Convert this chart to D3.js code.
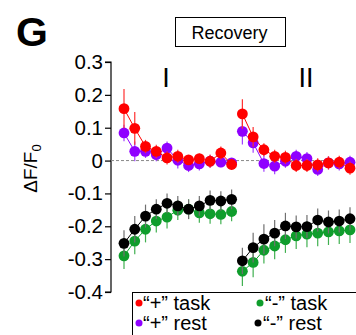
<!DOCTYPE html>
<html>
<head>
<meta charset="utf-8">
<script src="https://cdn.jsdelivr.net/npm/d3@7"></script>
<style>
  html, body { margin: 0; padding: 0; background: #fff; }
  svg { display: block; font-family: "Liberation Sans", Arial, sans-serif; }
</style>
</head>
<body>
<svg id="chart" width="356" height="335"></svg>
<script>
// Time-bin index: panel I = bins 0..10, panel II = bins 11..21
const binsI = d3.range(0, 11);
const binsII = d3.range(11, 22);
const panelLabels = ["I", "II"];
const yTicks = [0.3, 0.2, 0.1, 0, -0.1, -0.2, -0.3, -0.4];
const yTickLabels = ["0.3", "0.2", "0.1", "0", "-0.1", "-0.2", "-0.3", "-0.4"];

// "+" task
const plusTaskI  = [0.158, 0.098, 0.043, 0.028, 0.008, 0.013, 0.002, 0.006, -0.002, 0.023, -0.012];
const plusTaskII = [0.142, 0.072, 0.033, 0.013, 0.010, -0.015, -0.015, -0.013, -0.007, -0.005, -0.023];
const plusTaskErrI  = [0.06, 0.05, 0.02, 0.02, 0.02, 0.02, 0.015, 0.015, 0.02, 0.02, 0.015];
const plusTaskErrII = [0.045, 0.03, 0.02, 0.02, 0.02, 0.02, 0.02, 0.02, 0.02, 0.02, 0.02];

// "+" rest
const plusRestI  = [0.084, 0.028, 0.028, 0.018, 0.038, 0.001, -0.015, -0.010, -0.002, -0.005, -0.007];
const plusRestII = [0.089, 0.054, -0.009, -0.017, -0.002, 0.013, 0.006, -0.027, -0.007, -0.010, -0.005];
const plusRestErrI  = [0.025, 0.03, 0.02, 0.02, 0.02, 0.025, 0.02, 0.02, 0.02, 0.015, 0.015];
const plusRestErrII = [0.04, 0.03, 0.025, 0.025, 0.02, 0.02, 0.02, 0.02, 0.02, 0.02, 0.02];

// "-" task
const minusTaskI  = [-0.290, -0.245, -0.209, -0.184, -0.172, -0.151, -0.148, -0.159, -0.162, -0.164, -0.155];
const minusTaskII = [-0.337, -0.310, -0.273, -0.260, -0.241, -0.229, -0.224, -0.221, -0.217, -0.214, -0.211];
const minusTaskErrI  = [0.04, 0.04, 0.04, 0.035, 0.035, 0.03, 0.03, 0.03, 0.03, 0.03, 0.03];
const minusTaskErrII = [0.045, 0.045, 0.04, 0.04, 0.04, 0.04, 0.04, 0.04, 0.04, 0.04, 0.04];

// "-" rest
const minusRestI  = [-0.252, -0.209, -0.169, -0.148, -0.130, -0.138, -0.148, -0.138, -0.121, -0.123, -0.118];
const minusRestII = [-0.305, -0.265, -0.239, -0.221, -0.199, -0.202, -0.201, -0.181, -0.187, -0.184, -0.177];
const minusRestErrI  = [0.04, 0.04, 0.035, 0.03, 0.03, 0.03, 0.03, 0.03, 0.03, 0.03, 0.03];
const minusRestErrII = [0.04, 0.045, 0.045, 0.04, 0.04, 0.035, 0.035, 0.035, 0.035, 0.035, 0.035];

const seriesNames = ["\u201C+\u201D task", "\u201C-\u201D task", "\u201C+\u201D rest", "\u201C-\u201D rest"];

const colors = {
  plusTask: "#ff0000",
  plusRest: "#8f00ff",
  minusTask: "#0f9d2c",
  minusRest: "#000000"
};

const svg = d3.select("#chart");

const x = d3.scaleLinear().domain([0, 21]).range([124, 350]);
const y = d3.scaleLinear().domain([-0.4, 0.3]).range([292, 62]);
const axisX = 111;

// Panel letter
svg.append("text")
  .attr("x", 16).attr("y", 46)
  .attr("font-size", 41).attr("font-weight", "bold")
  .text("G");

// Condition title box
svg.append("rect")
  .attr("x", 175.5).attr("y", 17.5).attr("width", 110).attr("height", 29)
  .attr("fill", "none").attr("stroke", "#000").attr("stroke-width", 1);
svg.append("text")
  .attr("x", 229.5).attr("y", 38.5)
  .attr("text-anchor", "middle").attr("font-size", 18)
  .text("Recovery");

// Y axis
const yAxis = d3.axisLeft(y)
  .tickValues(yTicks)
  .tickFormat((d, i) => yTickLabels[i])
  .tickSize(6)
  .tickPadding(2);
const gY = svg.append("g")
  .attr("transform", `translate(${axisX},0)`)
  .call(yAxis);
gY.select(".domain").attr("stroke", "#000").attr("stroke-width", 1.2)
  .attr("d", `M-6,${y(0.3)}H0V${y(-0.4)}H-6`);
gY.selectAll(".tick line").attr("stroke", "#000").attr("stroke-width", 1.2);
gY.selectAll(".tick text")
  .attr("font-size", 20.5)
  .attr("fill", "#000")
  .attr("font-family", "\"Liberation Sans\", Arial, sans-serif");

// Y axis title: ΔF/F0
const yTitle = svg.append("text")
  .attr("transform", `translate(37,${y(0) + 8}) rotate(-90)`)
  .attr("text-anchor", "middle")
  .attr("font-size", 19);
yTitle.append("tspan").text("\u0394F/F");
yTitle.append("tspan").attr("font-size", 13).attr("dy", 4).text("0");

// Zero reference line
svg.append("line")
  .attr("x1", axisX).attr("x2", 356)
  .attr("y1", y(0)).attr("y2", y(0))
  .attr("stroke", "#888").attr("stroke-width", 1)
  .attr("stroke-dasharray", "3,2");

// Panel labels, placed over the 4th and 8th bins of each panel
svg.append("text")
  .attr("x", x(binsI[4]) - 1).attr("y", 87)
  .attr("text-anchor", "middle").attr("font-size", 27)
  .text(panelLabels[0]);
svg.append("text")
  .attr("x", x(binsII[6]) - 1).attr("y", 87)
  .attr("text-anchor", "middle").attr("font-size", 27)
  .text(panelLabels[1]);

function drawSeries(bins, vals, errs, color, errColor) {
  const pts = bins.map((b, i) => ({ b, v: vals[i], e: errs[i] }));
  const g = svg.append("g");
  g.selectAll("line.err").data(pts).join("line")
    .attr("class", "err")
    .attr("x1", d => x(d.b)).attr("x2", d => x(d.b))
    .attr("y1", d => y(d.v + d.e)).attr("y2", d => y(d.v - d.e))
    .attr("stroke", errColor).attr("stroke-width", 1.2);
  g.append("path")
    .datum(pts)
    .attr("fill", "none").attr("stroke", color).attr("stroke-width", 1)
    .attr("d", d3.line().x(d => x(d.b)).y(d => y(d.v)));
  g.selectAll("circle").data(pts).join("circle")
    .attr("cx", d => x(d.b)).attr("cy", d => y(d.v))
    .attr("r", 5.4).attr("fill", color);
}

drawSeries(binsI, plusRestI, plusRestErrI, colors.plusRest, "#a040ff");
drawSeries(binsII, plusRestII, plusRestErrII, colors.plusRest, "#a040ff");
drawSeries(binsI, plusTaskI, plusTaskErrI, colors.plusTask, "#ff3030");
drawSeries(binsII, plusTaskII, plusTaskErrII, colors.plusTask, "#ff3030");
drawSeries(binsI, minusTaskI, minusTaskErrI, colors.minusTask, "#40b050");
drawSeries(binsII, minusTaskII, minusTaskErrII, colors.minusTask, "#40b050");
drawSeries(binsI, minusRestI, minusRestErrI, colors.minusRest, "#707070");
drawSeries(binsII, minusRestII, minusRestErrII, colors.minusRest, "#707070");

// Legend
svg.append("rect")
  .attr("x", 132.5).attr("y", 292.5).attr("width", 224).attr("height", 43)
  .attr("fill", "#fff").attr("stroke", "#000").attr("stroke-width", 1);
const legendItems = [
  { name: seriesNames[0], color: colors.plusTask, cx: 139, cy: 303, tx: 143 },
  { name: seriesNames[1], color: colors.minusTask, cx: 260, cy: 303, tx: 265 },
  { name: seriesNames[2], color: colors.plusRest, cx: 139, cy: 323, tx: 143 },
  { name: seriesNames[3], color: colors.minusRest, cx: 258, cy: 323, tx: 263 }
];
const lg = svg.append("g").selectAll("g").data(legendItems).join("g");
lg.append("circle")
  .attr("cx", d => d.cx).attr("cy", d => d.cy).attr("r", 3.5)
  .attr("fill", d => d.color);
lg.append("text")
  .attr("x", d => d.tx).attr("y", d => d.cy + 7)
  .attr("font-size", 20)
  .text(d => d.name);
</script>
</body>
</html>
